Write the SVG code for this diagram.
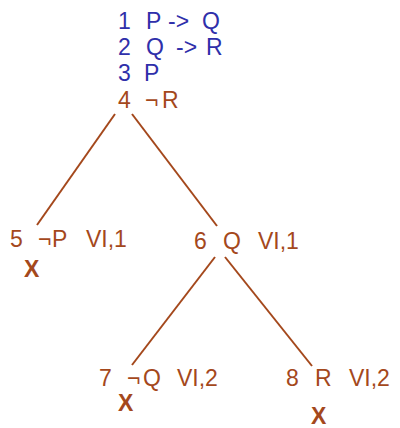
<svg xmlns="http://www.w3.org/2000/svg" width="400" height="428" viewBox="0 0 400 428">
<style>
text{font-family:"Liberation Sans",Arial,sans-serif;font-size:23px}
.b{fill:#2f2faa}
.r{fill:#a4481c}
.x{fill:#a4481c;font-weight:bold;font-size:23px}
.e{stroke:#a4481c;stroke-width:2;fill:none}
</style>
<rect width="400" height="428" fill="#ffffff"/>
<g id="root">
<text class="b" y="29"><tspan x="118">1</tspan><tspan x="146">P</tspan><tspan x="168">-&gt;</tspan><tspan x="202">Q</tspan></text>
<text class="b" y="55"><tspan x="118">2</tspan><tspan x="146">Q</tspan><tspan x="176">-&gt;</tspan><tspan x="206">R</tspan></text>
<text class="b" y="81"><tspan x="118">3</tspan><tspan x="144">P</tspan></text>
<text class="r" y="108"><tspan x="118">4</tspan><tspan x="145">¬</tspan><tspan x="162">R</tspan></text>
</g>
<g id="n5">
<text class="r" y="247"><tspan x="10">5</tspan><tspan x="38">¬</tspan><tspan x="52">P</tspan><tspan x="86">VI,1</tspan></text>
<text class="x" x="24" y="277">X</text>
</g>
<g id="n6">
<text class="r" y="249"><tspan x="194">6</tspan><tspan x="223">Q</tspan><tspan x="258">VI,1</tspan></text>
</g>
<g id="n7">
<text class="r" y="386"><tspan x="99">7</tspan><tspan x="127">¬</tspan><tspan x="143">Q</tspan><tspan x="177">VI,2</tspan></text>
<text class="x" x="118" y="411">X</text>
</g>
<g id="n8">
<text class="r" y="386"><tspan x="286">8</tspan><tspan x="315">R</tspan><tspan x="349">VI,2</tspan></text>
<text class="x" x="311" y="424">X</text>
</g>
<g id="edges">
<line class="e" x1="115" y1="114" x2="37" y2="225"/>
<line class="e" x1="132" y1="114" x2="217" y2="226"/>
<line class="e" x1="215" y1="257" x2="132" y2="365"/>
<line class="e" x1="225" y1="257" x2="312" y2="366"/>
</g>
</svg>
